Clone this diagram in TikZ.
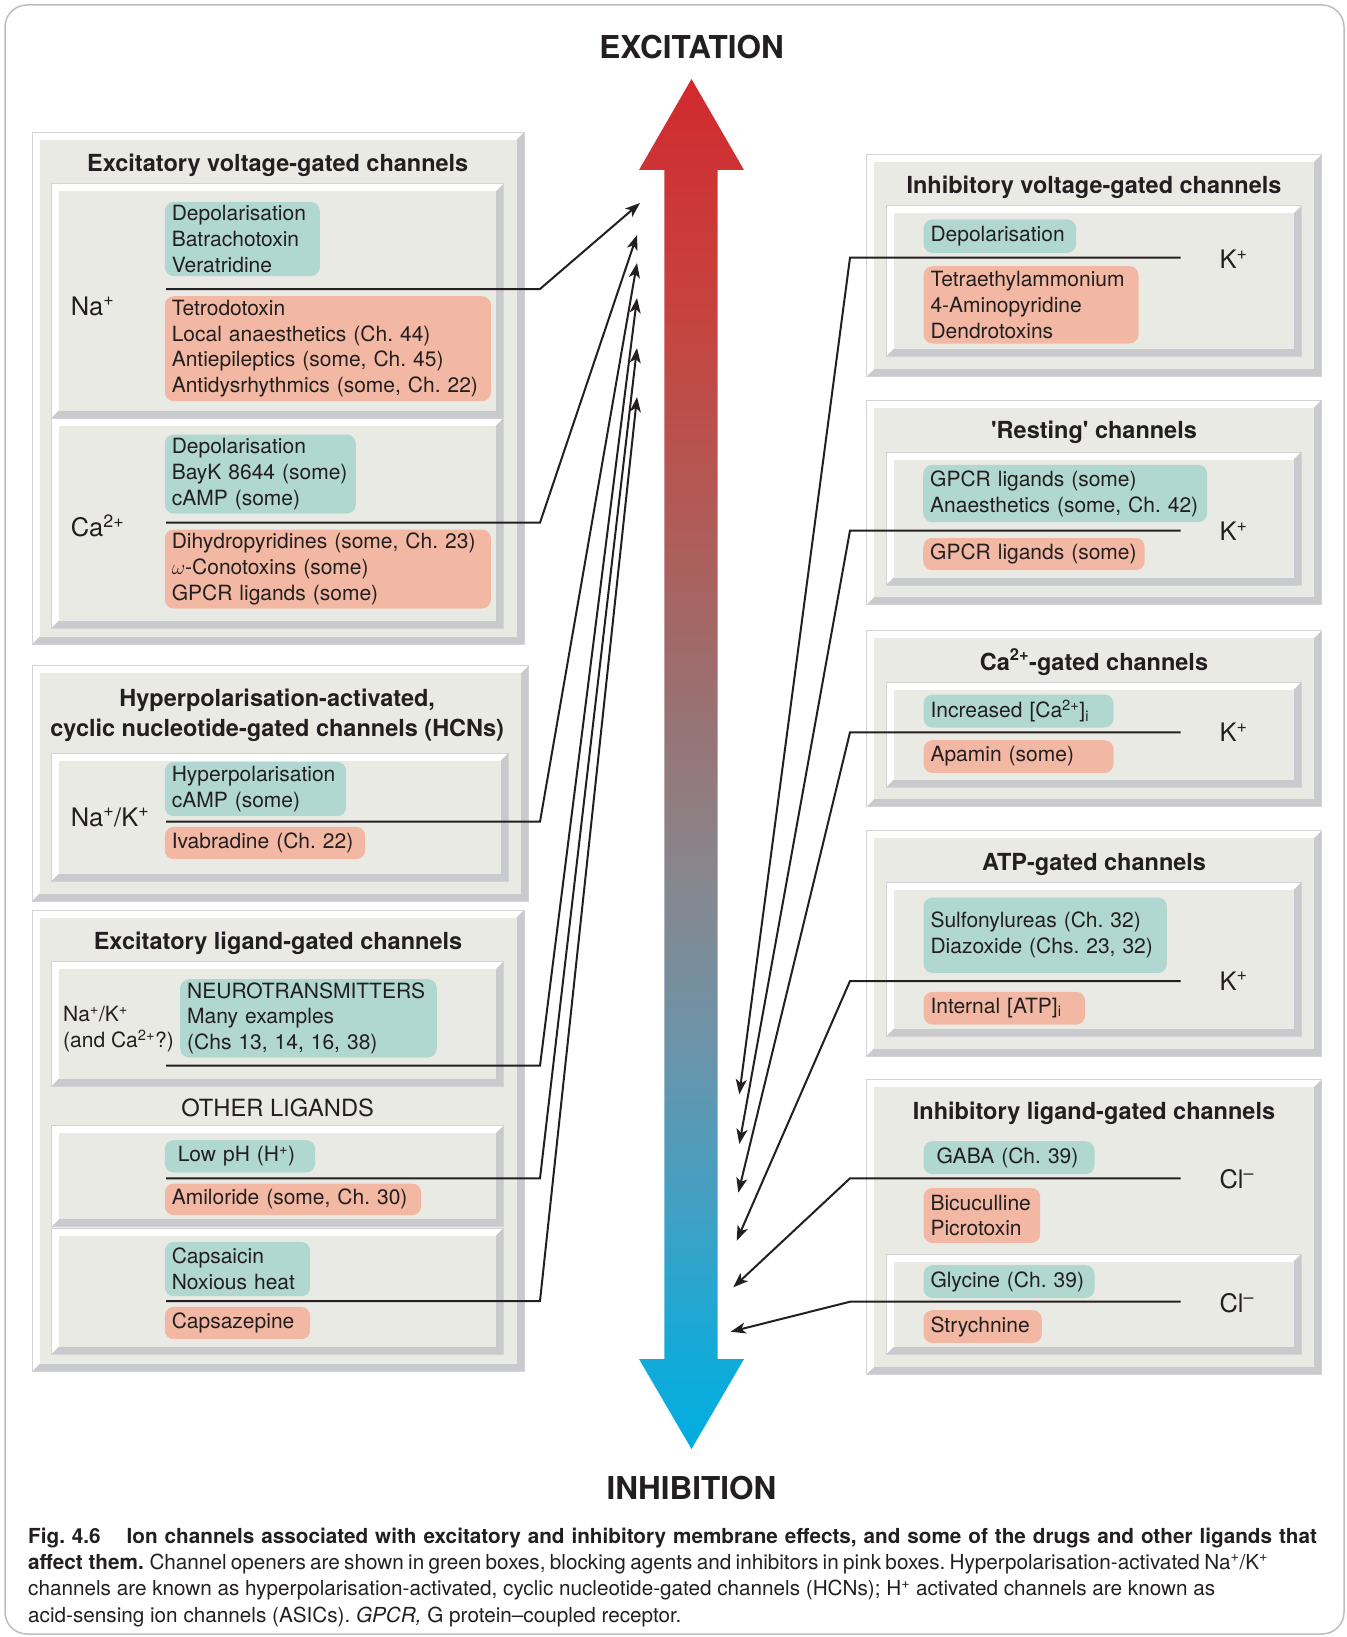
\documentclass[tikz,border=0pt]{standalone}
\usepackage{fontspec}
\setmainfont{TeX Gyre Heros}
\usetikzlibrary{arrows.meta}

\definecolor{ink}{HTML}{231F20}
\definecolor{openergreen}{HTML}{B0D7D0}
\definecolor{blockpink}{HTML}{F2B8A3}
\definecolor{panelgray}{HTML}{EAEAE5}
\definecolor{bevelgray}{HTML}{C9CACE}
\definecolor{panelline}{HTML}{D3D3D5}
\definecolor{framegray}{HTML}{BDBDBD}
% colours along the axis, top to bottom
\definecolor{excred}{HTML}{D12A2E}
\definecolor{axisa}{HTML}{C7433F}
\definecolor{axisb}{HTML}{B05B57}
\definecolor{axisc}{HTML}{9C6E6F}
\definecolor{axisd}{HTML}{88868D}
\definecolor{axise}{HTML}{6D93A8}
\definecolor{axisf}{HTML}{43A0C3}
\definecolor{axisg}{HTML}{14AAD8}
\definecolor{inhblue}{HTML}{00AEE0}
\pgfdeclareverticalshading{axisgrad}{100bp}{color(0bp)=(inhblue); color(25bp)=(inhblue);
  color(28.5bp)=(axisg); color(34bp)=(axisf); color(40bp)=(axise); color(46bp)=(axisd);
  color(53bp)=(axisc); color(59bp)=(axisb); color(66.5bp)=(axisa); color(75bp)=(excred);
  color(100bp)=(excred)}

\newcommand\boxfont{\fontsize{21}{25.7}\selectfont}
\newcommand\ionfont{\fontsize{25.5}{30}\selectfont}
\newcommand\paneltitlefont{\fontsize{23.5}{28}\selectfont\bfseries}
\newcommand\axisfont{\fontsize{31.5}{36}\selectfont\bfseries}
\newcommand\legendfont{\fontsize{20.7}{26.4}\selectfont}

% grey panel with a bevelled edge: x1 y1 x2 y2
\newcommand\bevelpanel[4]{%
  \fill[white] (#1,#2) rectangle (#3,#4);
  \fill[bevelgray] (#3,#2) -- (#3,#4) -- (#1,#4) -- ({#1+7.5},{#4-7.5})
    -- ({#3-7.5},{#4-7.5}) -- ({#3-7.5},{#2+7.5}) -- cycle;
  \fill[panelgray] ({#1+7.5},{#2+7.5}) rectangle ({#3-7.5},{#4-7.5});
  \draw[panelline, line width=1pt] (#1,#2) rectangle (#3,#4);
}

\begin{document}
\frenchspacing
\begin{tikzpicture}[x=1pt, y=-1pt,
    gbox/.style={fill=openergreen, rounded corners=9pt, anchor=north west, inner xsep=7pt, inner ysep=0pt, align=left, text=ink, font=\boxfont},
    pbox/.style={gbox, fill=blockpink},
    ion/.style={anchor=base west, inner sep=0pt, text=ink, font=\ionfont},
    ptitle/.style={anchor=base, inner sep=0pt, text=ink, font=\paneltitlefont},
    legend/.style={anchor=base west, inner sep=0pt, text=ink, font=\legendfont},
    conn/.style={line width=2pt, draw=ink, -{Stealth[length=15pt, width=11pt, inset=4pt]}}
]
\useasboundingbox (0,0) rectangle (1346,1637);
\draw[framegray, line width=1.5pt, rounded corners=22pt] (5,5) rectangle (1344,1634);

% excitation / inhibition axis
\shade[shading=axisgrad]
  (691.5,79) -- (744,170) -- (717.7,170) -- (717.7,1359) -- (744,1359) -- (691.5,1449)
  -- (639,1359) -- (664.3,1359) -- (664.3,170) -- (639,170) -- cycle;
\node[text=ink, font=\axisfont] at (691.5,47) (excite) {EXCITATION};
\node[text=ink, font=\axisfont] at (691.5,1488) (inhibit) {INHIBITION};

% left: excitatory voltage-gated
\bevelpanel{32}{132.3}{524}{644.3}
\bevelpanel{51}{184}{503.4}{418.3}
\bevelpanel{51}{418.3}{503.4}{628.3}
\node[ptitle] at (277.7,171.7) (exvg-title) {Excitatory voltage-gated channels};
\node[ion] at (70.6,315) (na-ion) {Na\textsuperscript{+}};
\node[gbox, text width=141pt, minimum height=74.3pt] at (164.6,201.7) (na-open) {Depolarisation\\Batrachotoxin\\Veratridine};
\node[pbox, text width=312.1pt, minimum height=105pt] at (164.6,296) (na-block) {Tetrodotoxin\\Local anaesthetics (Ch. 44)\\Antiepileptics (some, Ch. 45)\\Antidysrhythmics (some, Ch. 22)};
\node[ion] at (70.6,536.7) (ca-ion) {Ca\textsuperscript{2+}};
\node[gbox, text width=177pt, minimum height=79pt] at (164.6,434.3) (ca-open) {Depolarisation\\BayK 8644 (some)\\cAMP (some)};
\node[pbox, text width=312.1pt, minimum height=79pt] at (164.6,529.3) (ca-block) {Dihydropyridines (some, Ch. 23)\\$\omega$-Conotoxins (some)\\GPCR ligands (some)};

% left: HCNs
\bevelpanel{32}{665.7}{528.6}{901}
\bevelpanel{51.7}{753.3}{508}{881}
\node[ptitle] at (277.2,706.7) (hcn-title1) {Hyperpolarisation-activated,};
\node[ptitle] at (277.2,736.7) (hcn-title2) {cyclic nucleotide-gated channels (HCNs)};
\node[ion] at (70.6,826) (hcn-ion) {Na\textsuperscript{+}/K\textsuperscript{+}};
\node[gbox, text width=167.4pt, minimum height=54.3pt] at (164.6,761.7) (hcn-open) {Hyperpolarisation\\cAMP (some)};
\node[pbox, text width=186.4pt, minimum height=32.3pt] at (164.6,826.7) (hcn-block) {Ivabradine (Ch. 22)};

% left: excitatory ligand-gated
\bevelpanel{32}{910}{524}{1371.7}
\bevelpanel{51.7}{961.7}{503.4}{1086}
\bevelpanel{51.7}{1125.7}{503.4}{1226.7}
\bevelpanel{51.7}{1228.3}{503.4}{1354}
\node[ptitle] at (278,949.3) (exlg-title) {Excitatory ligand-gated channels};
\node[ion, font=\boxfont] at (63,1021.7) (nt-ion1) {Na\textsuperscript{+}/K\textsuperscript{+}};
\node[ion, font=\boxfont] at (63,1047.7) (nt-ion2) {(and Ca\textsuperscript{2+}?)};
\node[gbox, text width=242.6pt, minimum height=78.3pt] at (180,979) (nt-open) {NEUROTRANSMITTERS\\Many examples\\(Chs 13, 14, 16, 38)};
\node[ptitle, font=\fontsize{23.7}{28}\selectfont] at (277.7,1116.7) (other) {OTHER LIGANDS};
\node[gbox, text width=136.4pt, minimum height=32.3pt] at (164.6,1140) (ph-open) {\hspace{6pt}Low pH (H\textsuperscript{+})};
\node[pbox, text width=242.4pt, minimum height=31.7pt] at (164.6,1183.3) (ph-block) {Amiloride (some, Ch. 30)};
\node[gbox, text width=131.4pt, minimum height=54.3pt] at (164.6,1241.7) (cap-open) {Capsaicin\\Noxious heat};
\node[pbox, text width=131.4pt, minimum height=32.3pt] at (164.6,1306.7) (cap-block) {Capsazepine};

% right: inhibitory voltage-gated
\bevelpanel{866.7}{154.3}{1321.7}{376.7}
\bevelpanel{886}{206}{1301}{356.7}
\node[ptitle] at (1094,194) (ivg-title) {Inhibitory voltage-gated channels};
\node[gbox, text width=138.7pt, minimum height=33.4pt] at (923.3,219.3) (ivg-open) {Depolarisation};
\node[pbox, text width=201pt, minimum height=77.3pt] at (923.3,266) (ivg-block) {Tetraethylammonium\\4-Aminopyridine\\Dendrotoxins};
\node[ion] at (1219.3,268.3) (ivg-ion) {K\textsuperscript{+}};

% right: resting
\bevelpanel{866.7}{400}{1321.7}{604.6}
\bevelpanel{886}{452}{1301}{585}
\node[ptitle] at (1094,438) (rest-title) {\textquotesingle Resting\textquotesingle{} channels};
\node[gbox, text width=270pt, minimum height=57.3pt] at (923,464.7) (rest-open) {GPCR ligands (some)\\Anaesthetics (some, Ch. 42)};
\node[pbox, text width=207.5pt, minimum height=32.2pt] at (923,537.8) (rest-block) {GPCR ligands (some)};
\node[ion] at (1219.3,540.7) (rest-ion) {K\textsuperscript{+}};

% right: Ca-gated
\bevelpanel{866.7}{630.7}{1321.7}{806.7}
\bevelpanel{886}{682.3}{1301}{787.3}
\node[ptitle] at (1094,670) (cag-title) {Ca\textsuperscript{2+}-gated channels};
\node[gbox, text width=176pt, minimum height=33pt] at (923.3,694.3) (cag-open) {Increased [Ca\textsuperscript{2+}]\textsubscript{i}};
\node[pbox, text width=176pt, minimum height=32.7pt] at (923.3,740) (cag-block) {Apamin (some)};
\node[ion] at (1219.3,741.7) (cag-ion) {K\textsuperscript{+}};

% right: ATP-gated
\bevelpanel{866.7}{830.7}{1321.7}{1056}
\bevelpanel{886}{882.7}{1301}{1036.7}
\node[ptitle] at (1094,870) (atp-title) {ATP-gated channels};
\node[gbox, text width=229.4pt, minimum height=75.4pt] at (923.3,897.3) (atp-open) {Sulfonylureas (Ch. 32)\\Diazoxide (Chs. 23, 32)};
\node[pbox, text width=147.7pt, minimum height=32.6pt] at (923.3,991.7) (atp-block) {Internal [ATP]\textsubscript{i}};
\node[ion] at (1219.3,990) (atp-ion) {K\textsuperscript{+}};

% right: inhibitory ligand-gated
\bevelpanel{866.7}{1079.3}{1321.7}{1374.3}
\bevelpanel{886}{1254}{1301}{1354.7}
\node[ptitle] at (1094,1119.3) (ilg-title) {Inhibitory ligand-gated channels};
\node[gbox, text width=157pt, minimum height=33pt] at (923.3,1141) (gaba-open) {\hspace{6pt}GABA (Ch. 39)};
\node[pbox, text width=102.7pt, minimum height=55pt] at (923.3,1187.7) (gaba-block) {Bicuculline\\Picrotoxin};
\node[ion] at (1219.3,1188.3) (gaba-ion) {Cl\textsuperscript{–}};
\node[gbox, text width=157pt, minimum height=32.7pt] at (923.3,1265) (gly-open) {Glycine (Ch. 39)};
\node[pbox, text width=104.4pt, minimum height=32.7pt] at (923.3,1310) (gly-block) {Strychnine};
\node[ion] at (1219.3,1312.3) (gly-ion) {Cl\textsuperscript{–}};

% connectors to the axis
\coordinate (na-s) at (166,289);      \coordinate (na-k) at (540,289);      \coordinate (na-e) at (640,203);
\coordinate (ca-s) at (166,522.7);    \coordinate (ca-k) at (540,522.7);    \coordinate (ca-e) at (637,235);
\coordinate (hcn-s) at (166,821.7);   \coordinate (hcn-k) at (540,821.7);   \coordinate (hcn-e) at (637,263);
\coordinate (nt-s) at (166,1065.7);   \coordinate (nt-k) at (540,1065.7);   \coordinate (nt-e) at (637,298);
\coordinate (ph-s) at (166,1178.3);   \coordinate (ph-k) at (540,1178.3);   \coordinate (ph-e) at (637,348);
\coordinate (cap-s) at (166,1301);    \coordinate (cap-k) at (540,1301);    \coordinate (cap-e) at (637,397);
\coordinate (ivg-s) at (1180.7,257.7);  \coordinate (ivg-k) at (850,257.7);  \coordinate (ivg-e) at (739.3,1094.3);
\coordinate (rest-s) at (1180.7,530.5); \coordinate (rest-k) at (850,530.5); \coordinate (rest-e) at (739.3,1144);
\coordinate (cag-s) at (1180.7,732.3);  \coordinate (cag-k) at (850,732.3);  \coordinate (cag-e) at (738.3,1192.7);
\coordinate (atp-s) at (1180.7,981);    \coordinate (atp-k) at (850,981);    \coordinate (atp-e) at (736.7,1240.7);
\coordinate (gaba-s) at (1180.7,1178.3); \coordinate (gaba-k) at (850,1178.3); \coordinate (gaba-e) at (733.3,1287.3);
\coordinate (gly-s) at (1180.7,1301.7);  \coordinate (gly-k) at (850,1301.7);  \coordinate (gly-e) at (730.7,1331.7);

\foreach \c in {na,ca,hcn,nt,ph,cap,ivg,rest,cag,atp,gaba,gly}
  \draw[conn] (\c-s) -- (\c-k) -- (\c-e);

% legend
\node[legend] at (28,1543) (leg1) {\spaceskip=0.335em\textbf{Fig. 4.6\hspace{26pt}Ion channels associated with excitatory and inhibitory membrane effects, and some of the drugs and other ligands that}};
\node[legend] at (28,1569.4) (leg2) {\textbf{affect them.} {\spaceskip=0.21em Channel openers are shown in green boxes, blocking agents and inhibitors in pink boxes. Hyperpolarisation-activated Na\textsuperscript{+}/K\textsuperscript{+}}};
\node[legend] at (28,1595.8) (leg3) {channels are known as hyperpolarisation-activated, cyclic nucleotide-gated channels (HCNs); H\textsuperscript{+} activated channels are known as};
\node[legend] at (28,1622.2) (leg4) {acid-sensing ion channels (ASICs). \textit{GPCR,} G protein–coupled receptor.};
\end{tikzpicture}
\end{document}
